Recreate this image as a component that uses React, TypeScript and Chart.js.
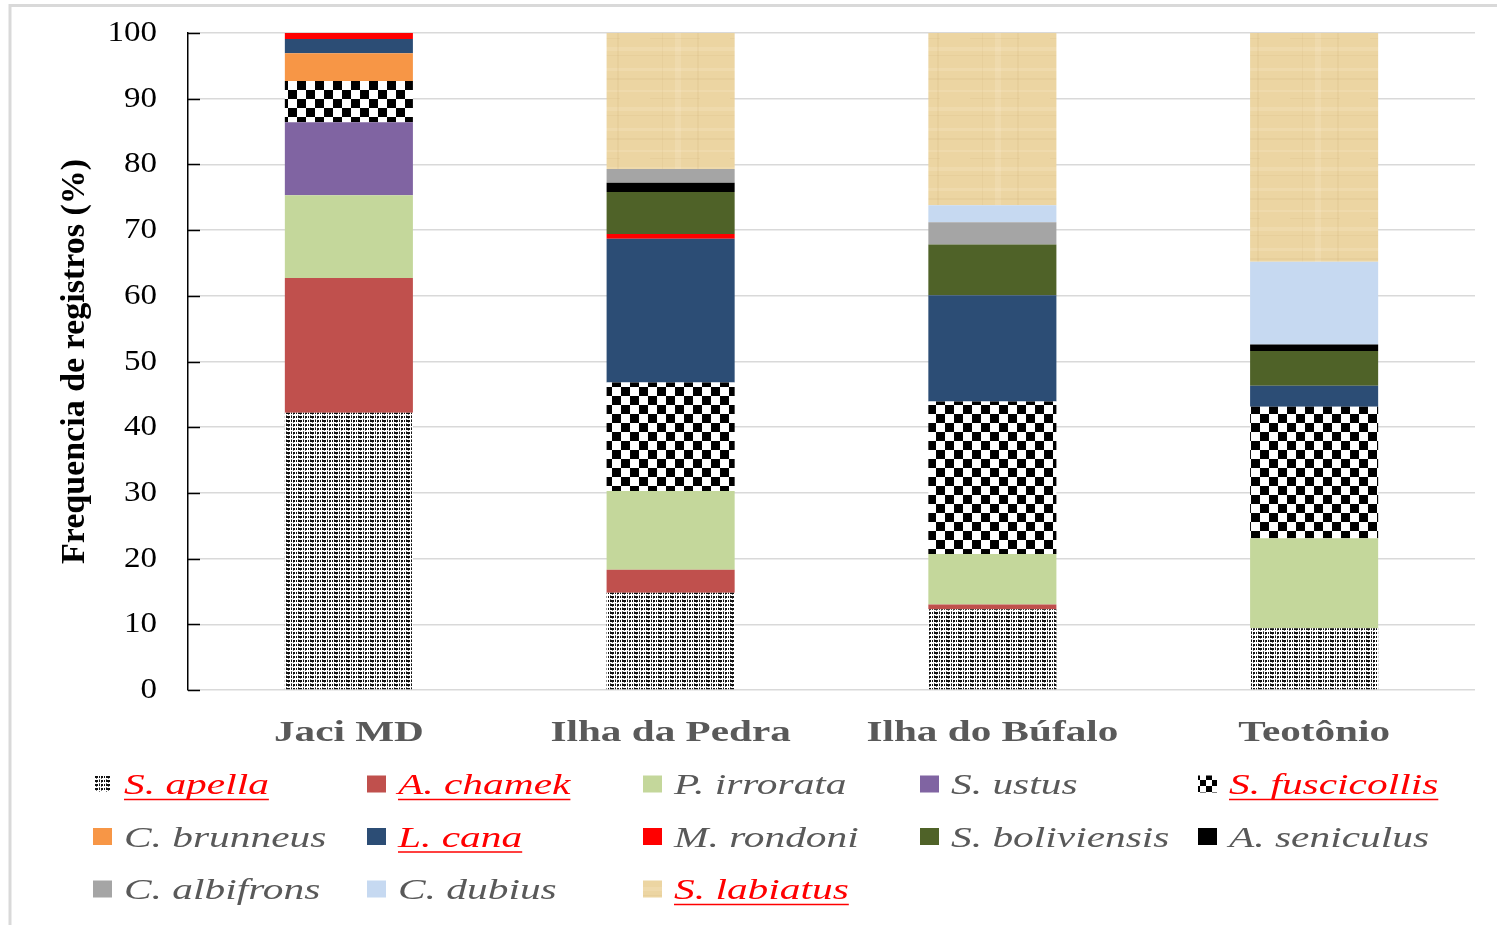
import React, { useEffect, useRef } from 'react';
import { Chart, registerables } from 'chart.js';
Chart.register(...registerables);

const categories = ['Jaci MD', 'Ilha da Pedra', 'Ilha do Búfalo', 'Teotônio'];
const speciesNames = [
  'S. apella', 'A. chamek', 'P. irrorata', 'S. ustus', 'S. fuscicollis',
  'C. brunneus', 'L. cana', 'M. rondoni', 'S. boliviensis', 'A. seniculus',
  'C. albifrons', 'C. dubius', 'S. labiatus',
];
const sApella = [42.2, 14.8, 12.3, 9.4];
const aChamek = [20.5, 3.5, 0.7, 0];
const pIrrorata = [12.6, 12.0, 7.7, 13.7];
const sUstus = [11.1, 0, 0, 0];
const sFuscicollis = [6.3, 16.5, 23.2, 20.0];
const cBrunneus = [4.2, 0, 0, 0];
const lCana = [2.2, 21.9, 16.2, 3.2];
const mRondoni = [0.9, 0.7, 0, 0];
const sBoliviensis = [0, 6.4, 7.7, 5.3];
const aSeniculus = [0, 1.4, 0, 1.0];
const cAlbifrons = [0, 2.1, 3.4, 0];
const cDubius = [0, 0, 2.6, 12.6];
const sLabiatus = [0, 20.7, 26.2, 34.8];
const seriesValues = [
  sApella, aChamek, pIrrorata, sUstus, sFuscicollis, cBrunneus, lCana,
  mRondoni, sBoliviensis, aSeniculus, cAlbifrons, cDubius, sLabiatus,
];
const underlinedNames = ['S. apella', 'A. chamek', 'S. fuscicollis', 'L. cana', 'S. labiatus'];
const yTickValues = [0, 10, 20, 30, 40, 50, 60, 70, 80, 90, 100];
const yTickLabels = ['0', '10', '20', '30', '40', '50', '60', '70', '80', '90', '100'];
const yTitle = 'Frequencia de registros (%)';

function makeTile(w: number, h: number, draw: (c: CanvasRenderingContext2D) => void) {
  const cv = document.createElement('canvas');
  cv.width = w;
  cv.height = h;
  const c = cv.getContext('2d')!;
  draw(c);
  return cv;
}

export default function App() {
  const ref = useRef<HTMLCanvasElement>(null);

  useEffect(() => {
    const canvas = ref.current!;
    const ctx0 = canvas.getContext('2d')!;

    const apellaTile = makeTile(12, 4, (c) => {
      c.fillStyle = '#fff';
      c.fillRect(0, 0, 12, 4);
      const row = '##.#.##.#.##';
      c.fillStyle = '#111';
      for (let i = 0; i < row.length; i++) {
        if (row[i] === '#') c.fillRect(i, 0, 1, 2);
      }
      c.fillStyle = '#777';
      c.fillRect(0, 2, 1, 1);
      c.fillRect(5, 2, 1, 1);
      c.fillRect(10, 3, 1, 1);
      c.fillRect(3, 3, 1, 1);
    });
    const apellaPattern = ctx0.createPattern(apellaTile, 'repeat')!;

    const checkerTile = makeTile(18, 18, (c) => {
      c.fillStyle = '#fff';
      c.fillRect(0, 0, 18, 18);
      c.fillStyle = '#000';
      c.fillRect(0, 0, 9, 9);
      c.fillRect(9, 9, 9, 9);
    });
    const checkerPattern = ctx0.createPattern(checkerTile, 'repeat')!;

    const smallCheckerTile = makeTile(12, 12, (c) => {
      c.fillStyle = '#fff';
      c.fillRect(0, 0, 12, 12);
      c.fillStyle = '#000';
      c.fillRect(0, 0, 6, 6);
      c.fillRect(6, 6, 6, 6);
    });
    const smallCheckerPattern = ctx0.createPattern(smallCheckerTile, 'repeat')!;

    const paperTile = makeTile(80, 60, (c) => {
      c.fillStyle = '#ECD5A2';
      c.fillRect(0, 0, 80, 60);
      c.fillStyle = 'rgba(255,246,222,0.18)';
      c.fillRect(0, 8, 80, 3);
      c.fillRect(0, 30, 80, 2);
      c.fillRect(0, 47, 80, 4);
      c.fillRect(35, 0, 6, 60);
      c.fillStyle = 'rgba(200,168,105,0.12)';
      c.fillRect(0, 18, 80, 2);
      c.fillRect(10, 38, 50, 1);
      c.fillRect(22, 0, 1, 60);
      c.fillRect(57, 0, 2, 60);
      c.fillRect(0, 55, 80, 1);
    });
    const paperPattern = ctx0.createPattern(paperTile, 'repeat')!;

    const fills: (string | CanvasPattern)[] = [
      apellaPattern, '#C0504D', '#C4D79B', '#8064A2', checkerPattern,
      '#F79646', '#2C4D75', '#FF0000', '#4F6228', '#000000',
      '#A5A5A5', '#C6D9F1', paperPattern,
    ];
    const legendFills: (string | CanvasPattern)[] = fills.map((f, i) =>
      i === 4 ? smallCheckerPattern : f
    );

    const drawStretched = (
      c: CanvasRenderingContext2D, text: string, x: number, y: number, sx: number, align: CanvasTextAlign
    ) => {
      c.save();
      c.translate(x, y);
      c.scale(sx, 1);
      c.textAlign = align;
      c.fillText(text, 0, 0);
      c.restore();
    };

    const decorPlugin = {
      id: 'decor',
      afterDraw(chart: any) {
        const c: CanvasRenderingContext2D = chart.ctx;
        const area = chart.chartArea;
        const yScale = chart.scales.y;
        const xScale = chart.scales.x;

        // outer frame
        c.save();
        c.strokeStyle = '#D9D9D9';
        c.lineWidth = 3;
        c.beginPath();
        c.moveTo(10, 925);
        c.lineTo(10, 5.5);
        c.lineTo(1497, 5.5);
        c.stroke();

        // inward tick marks + tick labels
        c.strokeStyle = '#000';
        c.lineWidth = 1.5;
        c.font = '30px "Liberation Serif"';
        c.fillStyle = '#000';
        c.textBaseline = 'middle';
        yTickValues.forEach((v, i) => {
          const y = Math.round(yScale.getPixelForValue(v)) + 0.5;
          c.beginPath();
          c.moveTo(area.left, y);
          c.lineTo(area.left + 12, y);
          c.stroke();
          drawStretched(c, yTickLabels[i], area.left - 31, y, 1.1, 'right');
        });

        // y title
        c.save();
        c.translate(75, 361.5);
        c.rotate(-Math.PI / 2);
        c.font = 'bold 34px "Liberation Serif"';
        c.fillStyle = '#000';
        c.textAlign = 'center';
        c.textBaseline = 'middle';
        c.fillText(yTitle, 0, 0);
        c.restore();

        // category labels
        c.font = 'bold 29px "Liberation Serif"';
        c.fillStyle = '#595959';
        c.textBaseline = 'alphabetic';
        categories.forEach((cat, i) => {
          drawStretched(c, cat, xScale.getPixelForValue(i), 741, 1.42, 'center');
        });

        // legend
        const colX = [93, 367, 643, 920, 1198];
        const rowY = [784, 836.5, 889];
        const sx = 1.38;
        c.font = 'italic 30px "Liberation Serif"';
        speciesNames.forEach((name, i) => {
          const col = i % 5;
          const row = Math.floor(i / 5);
          const bx = colX[col];
          const cy = rowY[row];
          c.fillStyle = legendFills[i] as any;
          if (i === 0) {
            c.fillRect(bx + 2, cy - 8, 16, 16);
          } else {
            c.fillRect(bx, cy - 8.5, 19, 17);
          }
          const red = underlinedNames.includes(name);
          c.fillStyle = red ? '#FF0000' : '#595959';
          const tx = bx + 31;
          const base = cy + 10;
          drawStretched(c, name, tx, base, sx, 'left');
          if (red) {
            const w = c.measureText(name).width * sx;
            c.strokeStyle = '#FF0000';
            c.lineWidth = 1.5;
            c.beginPath();
            c.moveTo(tx, base + 5.5);
            c.lineTo(tx + w, base + 5.5);
            c.stroke();
          }
        });
        c.restore();
      },
    };

    const chart = new Chart(canvas, {
      type: 'bar',
      data: {
        labels: categories,
        datasets: speciesNames.map((name, i) => ({
          label: name,
          data: seriesValues[i],
          backgroundColor: fills[i] as any,
          borderWidth: 0,
          barPercentage: 0.398,
          categoryPercentage: 1,
        })),
      },
      options: {
        responsive: false,
        animation: false,
        devicePixelRatio: 1,
        layout: { padding: { left: 0, top: 33, right: 22, bottom: 235 } },
        plugins: {
          legend: { display: false },
          tooltip: { enabled: false },
          title: { display: false },
        },
        scales: {
          x: {
            stacked: true,
            display: false,
            grid: { display: false },
          },
          y: {
            stacked: true,
            min: 0,
            max: 100,
            afterFit: (scale: any) => {
              scale.width = 188;
            },
            afterBuildTicks: (scale: any) => {
              scale.ticks = yTickValues.map((v) => ({ value: v }));
            },
            ticks: { display: false },
            grid: {
              color: '#D9D9D9',
              lineWidth: 1.5,
              drawTicks: false,
            },
            border: { display: true, color: '#000', width: 1.5 },
          },
        },
      },
      plugins: [decorPlugin],
    });

    return () => chart.destroy();
  }, []);

  return (
    <div style={{ position: 'fixed', left: 0, top: 0, width: 1497, height: 925, background: '#fff' }}>
      <canvas ref={ref} width={1497} height={925} style={{ display: 'block' }} />
    </div>
  );
}
